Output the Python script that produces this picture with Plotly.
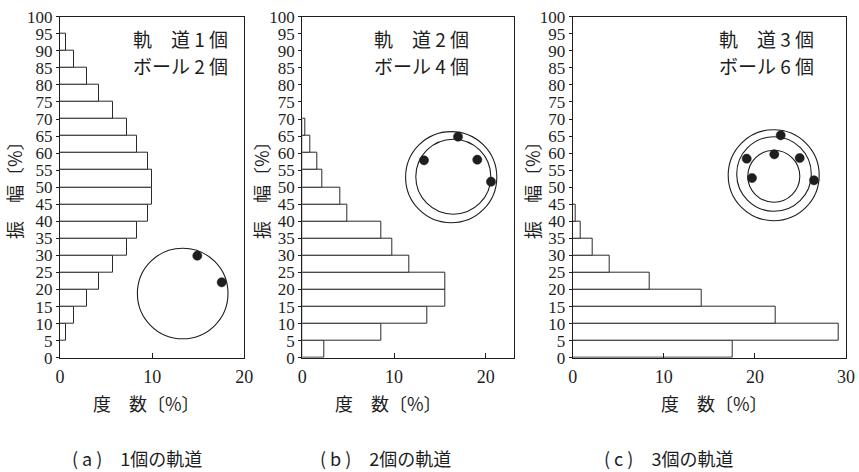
import plotly.graph_objects as go

# Canvas size in pixels
W, H = 859, 472

# Amplitude bins (lower edge, %) and frequency (%) for each orbit count
bin_lo = list(range(0, 100, 5))
freq_a = [0, 0.6, 1.5, 2.9, 4.2, 5.8, 7.3, 8.4, 9.5, 10.0,
          10.0, 9.5, 8.4, 7.3, 5.8, 4.2, 2.9, 1.5, 0.6, 0]
freq_b = [2.4, 8.6, 13.6, 15.6, 15.6, 11.7, 9.8, 8.6, 4.9, 4.1,
          2.2, 1.6, 0.9, 0.3, 0, 0, 0, 0, 0, 0]
freq_c = [17.6, 29.2, 22.3, 14.2, 8.4, 4.1, 2.2, 0.9, 0.3, 0,
          0, 0, 0, 0, 0, 0, 0, 0, 0, 0]

x_max = [20, 23.1, 30]
x_ticks = [[0, 10, 20], [0, 10, 20], [0, 10, 20, 30]]
y_ticks = list(range(0, 101, 5))

note_line1 = ["軌　道 1 個", "軌　道 2 個", "軌　道 3 個"]
note_line2 = ["ボール 2 個", "ボール 4 個", "ボール 6 個"]
captions = ["( a )　1個の軌道", "( b )　2個の軌道", "( c )　3個の軌道"]
x_title = "度　数〔%〕"
y_title = "振　幅〔%〕"

# Panel placement in pixels: (left, right), shared (top, bottom)
panel_x = [(60, 244.3), (302.3, 514.3), (572.7, 846)]
panel_top, panel_bottom = 16.7, 357.7
ytitle_x = [14, 261, 532]
xtitle_x = [146, 388, 714]
caption_x = [137, 385, 668]
note_x = [180, 421, 766]

# Bearing sketches: rings (cx, cy, r) and balls (cx, cy) in pixels
rings = [
    [(182.7, 293.5, 45.3)],
    [(451.2, 177.2, 45.6), (453.3, 176.7, 37.5)],
    [(773.7, 175.2, 45.5), (774.0, 174.0, 37.3), (773.8, 176.2, 26.0)],
]
balls = [
    [(197.3, 255.7), (221.7, 282.3)],
    [(458.0, 136.7), (424.0, 160.3), (477.3, 159.7), (491.0, 181.7)],
    [(780.7, 135.3), (746.7, 158.7), (774.3, 154.3), (799.7, 158.0),
     (752.0, 178.0), (814.0, 180.3)],
]
ball_r = 4.6

SERIF = "Liberation Serif, Times New Roman, DejaVu Serif, serif"
CJK = "Noto Sans CJK JP"
INK = "#1e1e1e"


def px(x):
    return x / W


def py(y):
    return 1 - y / H


fig = go.Figure()
layout = dict(
    template="none",
    width=W, height=H, autosize=False,
    margin=dict(l=0, r=0, t=0, b=0, pad=0, autoexpand=False),
    paper_bgcolor="white", plot_bgcolor="white",
    showlegend=False,
    bargap=0,
    shapes=[], annotations=[],
)

for i, freq in enumerate([freq_a, freq_b, freq_c]):
    sfx = "" if i == 0 else str(i + 1)
    ys = [lo + 2.5 for lo, f in zip(bin_lo, freq) if f > 0]
    xs = [f for f in freq if f > 0]
    fig.add_trace(go.Bar(
        x=xs, y=ys, orientation="h", width=5,
        marker=dict(color="white", line=dict(color="#2a2a2a", width=1)),
        xaxis="x" + sfx, yaxis="y" + sfx, hoverinfo="skip",
    ))
    x0, x1 = panel_x[i]
    layout["xaxis" + sfx] = dict(
        domain=[px(x0), px(x1)], anchor="y" + sfx, automargin=False,
        range=[0, x_max[i]], tickvals=x_ticks[i],
        ticks="inside", ticklen=5, tickcolor=INK, tickwidth=1,
        ticklabelstandoff=3,
        showline=True, linecolor=INK, linewidth=1.3, mirror=True,
        showgrid=False, zeroline=False,
        tickfont=dict(family=SERIF, size=18, color=INK),
    )
    layout["yaxis" + sfx] = dict(
        domain=[py(panel_bottom), py(panel_top)], anchor="x" + sfx,
        automargin=False,
        range=[0, 100], tickvals=y_ticks,
        ticks="outside", ticklen=3, tickcolor=INK, tickwidth=1,
        showline=True, linecolor=INK, linewidth=1.3, mirror=True,
        showgrid=False, zeroline=False,
        tickfont=dict(family=SERIF, size=17, color=INK),
    )

    # Orbit / ball count note
    for txt, yy in [(note_line1[i], 38.3), (note_line2[i], 66)]:
        layout["annotations"].append(dict(
            text=txt, x=px(note_x[i]), y=py(yy), xref="paper", yref="paper",
            xanchor="center", yanchor="middle", showarrow=False,
            font=dict(family=CJK, size=19, color=INK)))
    # Axis titles
    layout["annotations"].append(dict(
        text=y_title, x=px(ytitle_x[i]), y=py(186), xref="paper", yref="paper",
        xanchor="center", yanchor="middle", showarrow=False, textangle=-90,
        font=dict(family=CJK, size=18, color=INK)))
    layout["annotations"].append(dict(
        text=x_title, x=px(xtitle_x[i]), y=py(403), xref="paper", yref="paper",
        xanchor="center", yanchor="middle", showarrow=False,
        font=dict(family=CJK, size=18, color=INK)))
    layout["annotations"].append(dict(
        text=captions[i], x=px(caption_x[i]), y=py(458), xref="paper", yref="paper",
        xanchor="center", yanchor="middle", showarrow=False,
        font=dict(family=CJK, size=18, color=INK)))

    # Bearing sketch
    for cx, cy, r in rings[i]:
        layout["shapes"].append(dict(
            type="circle", xref="paper", yref="paper",
            x0=px(cx - r), x1=px(cx + r), y0=py(cy + r), y1=py(cy - r),
            line=dict(color=INK, width=1.1), fillcolor="rgba(0,0,0,0)"))
    for cx, cy in balls[i]:
        layout["shapes"].append(dict(
            type="circle", xref="paper", yref="paper",
            x0=px(cx - ball_r), x1=px(cx + ball_r),
            y0=py(cy + ball_r), y1=py(cy - ball_r),
            line=dict(color=INK, width=0.5), fillcolor=INK))

fig.update_layout(**layout)
fig.write_html("out.html")
